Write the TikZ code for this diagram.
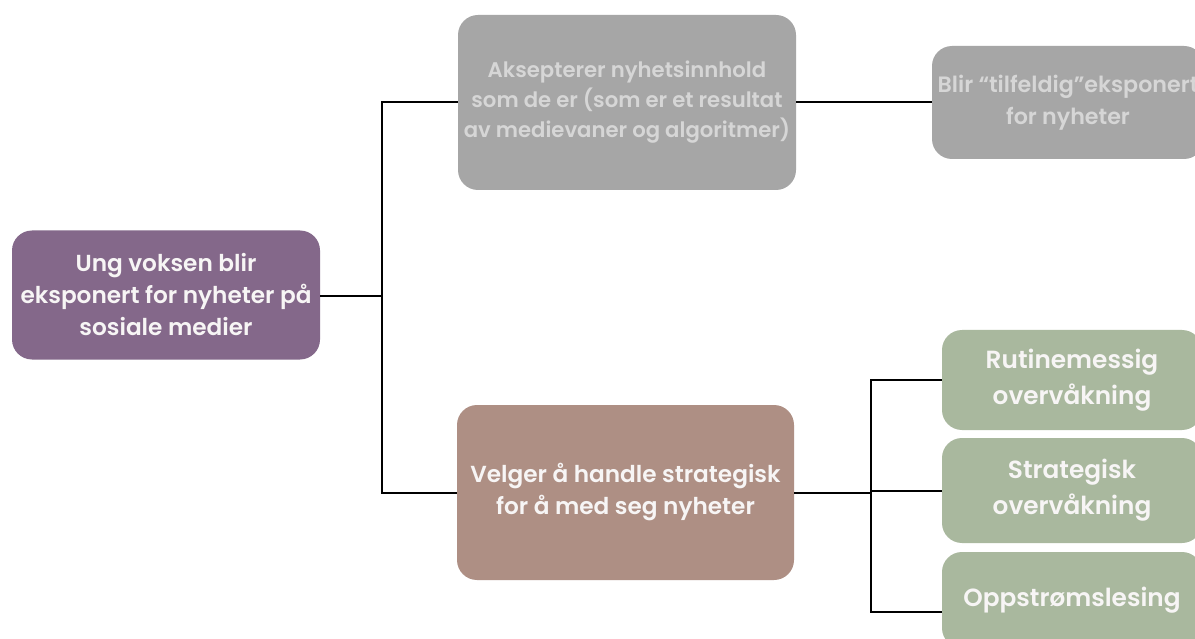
\documentclass[tikz,border=0pt]{standalone}
\usepackage{fontspec}
\setmainfont{Poppins}
\newfontfamily\boxfont{Poppins SemiBold}
\definecolor{rootfill}{HTML}{84688A}
\definecolor{greyfill}{HTML}{A6A6A6}
\definecolor{greytext}{HTML}{D6D6D6}
\definecolor{brownfill}{HTML}{AE8F84}
\definecolor{greenfill}{HTML}{A9B89E}
\definecolor{lighttext}{HTML}{F7F5F5}
\begin{document}
\begin{tikzpicture}[x=1pt,y=-1pt,
  box/.style={rounded corners=20pt, inner sep=0pt, align=center, anchor=center,
    text=lighttext, font=\boxfont\fontsize{23.2}{32}\selectfont},
  greybox/.style={box, fill=greyfill, text=greytext, font=\boxfont\fontsize{21.2}{30}\selectfont},
  greenbox/.style={box, fill=greenfill, minimum width=260pt, font=\boxfont\fontsize{24.8}{36}\selectfont},
  link/.style={draw=black, line width=2pt}]
\useasboundingbox (0,0) rectangle (1195,639);
\clip (0,0) rectangle (1195,639);
\fill[white] (0,0) rectangle (1195,639);

% boxes
\node[box, fill=rootfill, minimum width=308pt, minimum height=129pt] (root) at (166,295)
  {Ung voksen blir\\eksponert for nyheter på\\sosiale medier};
\node[greybox, minimum width=338pt, minimum height=175pt] (accept) at (627,102.5)
  {Aksepterer nyhetsinnhold\\som de er (som er et resultat\\av medievaner og algoritmer)};
\node[greybox, font=\boxfont\fontsize{22.2}{32}\selectfont, minimum width=272pt, minimum height=113pt] (random) at (1068,102.5)
  {Blir “tilfeldig”eksponert\\for nyheter};
\node[box, fill=brownfill, minimum width=337pt, minimum height=175pt] (choose) at (625.5,492.5)
  {Velger å handle strategisk\\for å med seg nyheter};
\node[greenbox, minimum height=100pt] (routine) at (1072,380)
  {Rutinemessig\\overvåkning};
\node[greenbox, minimum height=105pt] (strategic) at (1072,490.5)
  {Strategisk\\overvåkning};
\node[greenbox, minimum height=96pt] (upstream) at (1072,600)
  {Oppstrømslesing};

% connectors
\coordinate (j1) at (382,296);
\coordinate (j2) at (871,491);
\draw[link] (root.east |- j1) -- (j1);
\draw[link] (accept.west) -| (j1) |- (choose.west);
\draw[link] (accept.east) -- (random.west);
\draw[link] (choose.east) -- (choose.east -| j2);
\draw[link] (routine.west) -| (j2) |- (strategic.west);
\draw[link] (j2) |- ([yshift=-12pt]upstream.west);
\end{tikzpicture}
\end{document}
